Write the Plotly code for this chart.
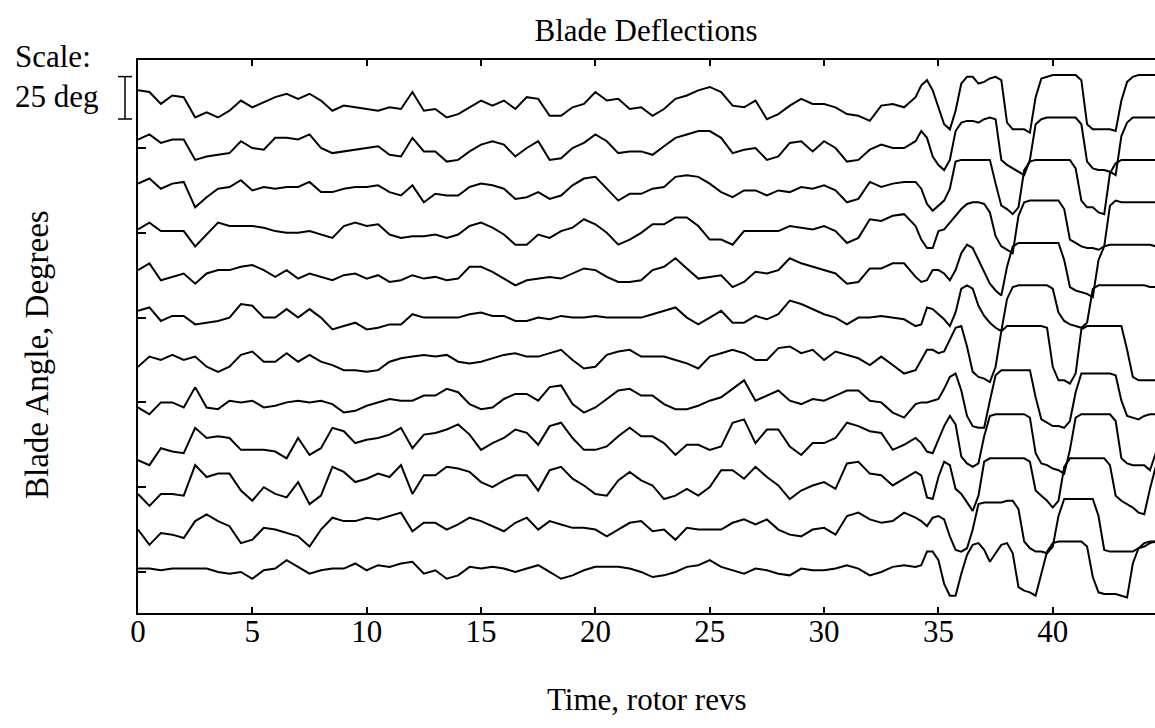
import numpy as np
import plotly.graph_objects as go

# Sample times (rotor revs): 0.5-rev steps up to 34, then 0.25-rev steps through the stall region
TIME = np.concatenate([np.arange(0, 34.01, 0.5), np.arange(34.25, 44.51, 0.25)]).round(2).tolist()

# Blade angle (degrees) for each blade
BLADE_1 = [9, 8, 1, 6, 5, -7, -4, -7, -3, 3, -1, 2, 5, 7, 4, 7, 3, -3, 0, -1, -2, -3, -1, -2, 8, -3, -2, -7, -5, -1, 3,
           0, 3, -2, 5, 4, -6, -6, -1, 1, 8, 3, 4, -2, -1, -6, -2, 4, 6, 9, 11, 8, 0, -1, 3, -8, -5, 0, 4, 1,
           1, -1, -5, -6, -9, 0, 1, -1, 5,
           12, 15, 9, -1, -11, -14, -3, 13, 17, 17, 13, 14, 16, 17, 15, -10, -14, -14, -14, -16, 5, 16, 17, 18, 18, 18, 18, 18, 15, -11, -14, -14, -14, -14, -15, 3, 14, 17, 18, 18, 18, 18]
BLADE_2 = [5, 8, 3, 5, 5, -7, -5, -4, -3, 4, 0, -1, 6, 6, 5, 8, 0, -3, -2, -1, 0, 1, -4, -5, 6, -2, -2, -8, -7, -2, 2,
           4, 2, -5, 0, 4, -7, -6, 0, 3, 8, 4, -3, -2, -2, -4, 1, 6, 8, 10, 10, 6, -3, -1, 0, -7, -5, 3, 4, -2,
           4, 0, -8, -7, -1, 2, 0, 0, 4,
           10, 6, -5, -10, -13, -7, 10, 15, 16, 16, 15, 17, 18, 17, -7, -10, -12, -14, -16, -7, 14, 17, 18, 18, 18, 18, 18, 18, 14, -8, -12, -13, -13, -14, -16, 7, 15, 18, 18, 18, 18, 18]
BLADE_3 = [4, 7, 1, 4, 5, -10, -4, 1, 2, 6, 0, 2, 1, 2, 2, 5, -1, -1, 1, 2, 2, 3, -1, -3, 3, -7, -2, -3, -3, 2, 4,
           3, 1, -5, -4, -1, -5, -3, 3, 7, 8, 1, -6, -2, -2, 1, 2, 8, 9, 8, 4, -1, -4, 0, 0, -3, 0, -1, 2, 1,
           3, 0, -7, -5, 5, 2, 4, 5, 5,
           1, -8, -12, -9, -6, 1, 17, 18, 18, 18, 18, 18, 18, 4, -9, -11, -14, -10, 12, 17, 18, 18, 18, 18, 18, 18, 18, 13, -6, -10, -10, -13, -14, 10, 16, 18, 18, 18, 18, 18, 18, 18]
BLADE_4 = [2, 6, 1, 1, 1, -8, -1, 6, 4, 4, 4, 3, 1, 0, 0, 1, -1, -3, 4, 6, 4, 5, -1, -3, -2, -2, -1, -3, -1, 4, 6,
           3, -1, -7, -7, -1, -3, 1, 3, 8, 5, 0, -7, -4, 0, 5, 5, 9, 9, 4, -4, -4, -7, 1, 1, 1, 1, 4, 3, 2,
           4, 1, -6, -3, 8, 7, 10, 11, 4,
           -4, -9, -9, 1, 2, 6, 10, 14, 17, 18, 18, 17, 12, -2, -8, -10, -12, 10, 18, 19, 19, 19, 19, 19, 19, 14, -4, -6, -8, -9, -9, -10, -8, 16, 19, 18, 18, 18, 18, 18, 18, 18]
BLADE_5 = [3, 7, -3, -1, 1, -5, 1, 3, 3, 5, 6, 3, -1, 3, -2, 1, -1, -3, 0, 1, -2, 0, -4, -3, 0, -2, -1, -3, -2, 5, 5,
           2, -2, -6, -3, -2, -1, -2, 1, 4, 3, -1, -4, -4, -3, 3, 5, 10, 4, -2, -1, 0, -7, -4, 2, 1, 3, 10, 7, 5,
           3, 1, -5, -4, 4, 4, 7, 7, -1,
           -4, -3, 3, 3, 1, -3, 3, 13, 18, 16, 9, 1, -5, -9, -12, 5, 17, 19, 19, 19, 19, 19, 19, 19, 19, 9, -7, -9, -10, -11, -13, 9, 17, 18, 18, 18, 18, 18, 18, 18, 18, 17]
BLADE_6 = [4, 6, -2, 1, 1, -4, -3, -2, 0, 8, 7, 0, 0, 5, 0, 5, 0, -7, -5, -3, -7, -6, -4, -4, 2, 0, 0, 0, 0, 2, 3,
           1, 1, -2, -2, 0, -1, 1, 0, 0, 1, 0, 0, 0, 0, 2, 4, 6, 0, -4, 0, 4, -3, -3, 1, -1, 2, 10, 8, 5,
           2, 0, -4, 0, 0, 1, 0, -1, -5,
           -4, 6, 5, 2, -1, -5, 3, 17, 19, 17, 7, 1, -3, -6, -8, 11, 18, 19, 19, 19, 19, 19, 19, 17, 3, -2, -4, -5, -6, -3, 17, 19, 19, 19, 19, 19, 19, 19, 19, 19, 18, 18]
BLADE_7 = [-4, 2, 0, 3, 0, 2, -4, -7, -4, 3, 5, -1, -1, 4, -1, 3, -1, -3, -6, -6, -7, -6, -1, 1, 2, 3, 2, 3, -1, -2, -1,
           1, 3, 4, 2, 2, 4, 6, 0, -5, -4, 3, 5, 6, 2, 2, 2, 0, -2, -5, 2, 4, 6, 4, 0, 0, 7, 8, 4, 6,
           0, 5, 3, 1, -3, 2, -3, -8, -6,
           0, 6, 6, 4, 5, 12, 19, 20, 8, -7, -10, -11, -13, -4, 17, 20, 20, 20, 20, 20, 20, 20, 19, -4, -12, -12, -14, -8, 18, 20, 20, 20, 20, 20, 20, 20, 6, -10, -12, -12, -12, -12]
BLADE_8 = [-3, -7, 0, 0, -3, 9, -3, -4, 1, 0, 1, -3, -2, 0, 1, 0, 1, -1, -6, -5, -2, 0, 2, 1, 1, 4, 4, 8, 6, -1, -4,
           -3, 2, 5, 5, 1, 9, 10, -1, -6, -3, 2, 7, 8, 4, 4, -1, -4, -4, -2, 1, 3, 8, 13, 1, 4, 7, 1, -1, 2,
           1, 4, 7, 7, 1, 0, -6, -9, -1,
           0, 0, 1, 2, 8, 15, 17, 7, -8, -14, -15, -15, 1, 16, 19, 19, 19, 19, 19, 19, 3, -10, -12, -14, -14, -15, -11, 6, 17, 17, 17, 17, 17, 17, 16, 1, -8, -9, -10, -8, -7, -7]
BLADE_9 = [-9, -12, -2, -4, -5, 10, 4, 5, 4, -3, -3, -3, -4, -8, 4, -6, -2, 10, 8, 1, 3, 4, 6, 10, -2, 6, 7, 9, 12, 6, -3,
           1, 4, 9, 7, 0, 11, 13, 4, -3, -3, -1, 5, 10, 5, 5, 1, -6, 0, 0, -3, -1, 13, 15, 1, 9, 9, -1, -6, 1,
           1, 4, 13, 11, 8, 7, -3, 0, 4,
           1, -4, -5, 3, 11, 17, 12, -7, -11, -13, -11, 5, 17, 18, 18, 18, 18, 18, 18, 16, -5, -11, -12, -14, -15, -17, -3, 16, 18, 18, 18, 18, 18, 18, 14, -8, -11, -12, -12, -12, -15, -5]
BLADE_10 = [-4, -11, -4, -4, -5, 13, 6, 8, 8, -2, -8, 0, -4, -6, 3, -10, -5, 12, 9, 3, 5, 8, 6, 13, -4, 7, 7, 12, 11, 9, 3,
            0, 4, 7, 7, -2, 10, 12, 5, 1, -4, -5, 4, 9, 4, 1, -7, -5, -1, -5, 0, 10, 10, 5, 12, 6, 1, -7, -2, 1,
            3, -1, 14, 15, 8, 7, 1, 5, 9,
            7, -6, -7, 6, 15, 13, -1, -4, -9, -14, -5, 15, 17, 17, 17, 17, 17, 17, 17, 15, -2, -5, -8, -12, -8, 12, 17, 17, 17, 17, 17, 17, 17, 13, -5, -8, -10, -12, -15, -16, -1, 12]
BLADE_11 = [0, -9, -2, -3, -5, 5, 9, 5, 2, -8, -6, 1, 0, -2, -4, -10, 0, 7, 5, 5, 7, 6, 8, 10, -1, 4, 4, 0, 3, 7, 5,
            2, -1, 4, 7, 0, 5, 3, 1, 1, 0, -4, 0, 4, 5, -1, 0, -6, 1, 0, 0, 0, 4, 6, 3, 6, 0, -3, -4, 0,
            1, -3, 8, 10, 6, 4, 5, 10, 7,
            5, 2, 7, 8, 6, -4, -12, -13, -11, 0, 15, 16, 16, 16, 16, 17, 17, 12, -7, -11, -13, -13, -14, -10, 8, 18, 18, 18, 18, 18, 18, 8, -12, -13, -13, -13, -13, -13, -11, -10, -8, -7]
BLADE_12 = [2, 2, 1, 2, 2, 2, 2, 0, -1, 0, -4, 1, 2, 7, 3, -1, 1, 2, 2, 5, 1, 4, 3, 5, 6, -1, 1, -4, -2, 3, 2,
            3, 2, 0, 2, 4, 0, -4, -2, 1, 3, 3, 3, 2, 0, -3, -2, 0, 3, 4, 7, 3, 1, -1, 2, 1, -1, -2, 2, 1,
            1, 2, 4, 2, -2, 0, 3, 4, 3,
            4, 12, 12, 7, -7, -14, -14, -1, 10, 16, 17, 13, 6, 11, 16, 17, 11, -9, -11, -12, -14, -1, 12, 17, 18, 18, 18, 18, 18, 15, -3, -12, -13, -13, -13, -14, -15, 5, 14, 17, 18, 18]

BLADES = [BLADE_1, BLADE_2, BLADE_3, BLADE_4, BLADE_5, BLADE_6,
          BLADE_7, BLADE_8, BLADE_9, BLADE_10, BLADE_11, BLADE_12]

TRACE_SPACING_DEG = 25       # vertical offset between blade traces
SCALE_BAR_DEG = 25           # length of the scale bar
X_TICKS = [0, 5, 10, 15, 20, 25, 30, 35, 40]
Y_TICKS = [0, 50, 100, 150, 200, 250]

for b in BLADES:
    assert len(b) == len(TIME), (len(b), len(TIME))

FONT = "Liberation Serif, Times New Roman, serif"

fig = go.Figure()
n = len(BLADES)
for i, vals in enumerate(BLADES):
    offset = TRACE_SPACING_DEG * (n - 1 - i)
    fig.add_trace(go.Scatter(
        x=TIME, y=[v + offset for v in vals], mode="lines",
        line=dict(color="black", width=2), showlegend=False, hoverinfo="skip"))

fig.update_layout(
    width=1155, height=728,
    margin=dict(l=138, r=0, t=60, b=115),
    paper_bgcolor="white", plot_bgcolor="white",
    font=dict(family=FONT, size=31, color="black"),
    title=dict(text="Blade Deflections", x=0.5593, xanchor="center",
               y=1 - 30 / 728, yanchor="middle", font=dict(family=FONT, size=31, color="black")),
    showlegend=False,
)
fig.update_xaxes(range=[0, 44.47], tickvals=X_TICKS, ticks="inside", ticklen=6, tickwidth=1.5,
                 tickcolor="black", showline=True, linecolor="black", linewidth=2, mirror="ticks",
                 showgrid=False, zeroline=False, tickfont=dict(family=FONT, size=31, color="black"))
try:
    fig.update_xaxes(ticklabelstandoff=-10)
except Exception:
    pass
fig.update_yaxes(range=[-24.2, 301.9], tickvals=Y_TICKS, ticks="inside", ticklen=8, tickwidth=1.5,
                 tickcolor="black", showline=True, linecolor="black", linewidth=2, mirror=False,
                 showgrid=False, zeroline=False, showticklabels=False)

# axis titles as annotations
fig.add_annotation(text="Time, rotor revs", xref="paper", yref="paper", x=0.5, y=(613 - 699) / 553,
                   xanchor="center", yanchor="middle", showarrow=False, font=dict(family=FONT, size=31))
fig.add_annotation(text="Blade Angle, Degrees", xref="paper", yref="paper", x=(37 - 138) / 1017,
                   y=(613 - 355) / 553, textangle=-90, xanchor="center", yanchor="middle",
                   showarrow=False, font=dict(family=FONT, size=33))
fig.add_annotation(text="Scale:", xref="paper", yref="paper", x=(13 - 138) / 1017, y=(613 - 56) / 553,
                   xanchor="left", yanchor="middle", showarrow=False, font=dict(family=FONT, size=31))
fig.add_annotation(text="25 deg", xref="paper", yref="paper", x=(13 - 138) / 1017, y=(613 - 96) / 553,
                   xanchor="left", yanchor="middle", showarrow=False, font=dict(family=FONT, size=31))

# scale bar (I-shaped), spanning SCALE_BAR_DEG in data units
bar_top = 292.1
bar_bot = bar_top - SCALE_BAR_DEG
xb = (125 - 138) / 1017
xl, xr = (118 - 138) / 1017, (132 - 138) / 1017
for (x0, y0, x1, y1) in [(xb, bar_bot, xb, bar_top), (xl, bar_top, xr, bar_top), (xl, bar_bot, xr, bar_bot)]:
    fig.add_shape(type="line", xref="paper", yref="y", x0=x0, y0=y0, x1=x1, y1=y1,
                  line=dict(color="black", width=1.5))

fig.write_html("out.html")
